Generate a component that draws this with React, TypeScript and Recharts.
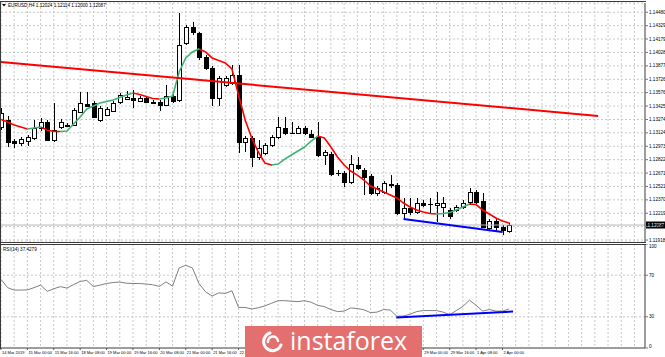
import React from 'react';
import {
  ComposedChart,
  LineChart,
  Bar,
  Line,
  XAxis,
  YAxis,
  CartesianGrid,
  ReferenceLine,
} from 'recharts';

// EURUSD H4, bars 0..77 (14 Mar 08:00 .. 2 Apr 04:00)
const opens = [
  1.13189, 1.13268, 1.13032, 1.13009, 1.13032, 1.13066, 1.13178, 1.13246, 1.13043, 1.13189,
  1.13212, 1.13212, 1.13358, 1.13448, 1.13459, 1.13268, 1.13324, 1.13369, 1.13471, 1.13504,
  1.13516, 1.13482, 1.13516, 1.13471, 1.13471, 1.13437, 1.13538, 1.13493, 1.14134, 1.14314,
  1.14247, 1.13977, 1.13853, 1.13516, 1.13662, 1.13684, 1.13774, 1.13021, 1.13066, 1.12852,
  1.12897, 1.12987, 1.13077, 1.13178, 1.13125, 1.13122, 1.13178, 1.13111, 1.13077, 1.12874,
  1.12886, 1.12675, 1.12672, 1.12571, 1.12762, 1.12706, 1.12638, 1.12447, 1.12458, 1.12548,
  1.12537, 1.12222, 1.12278, 1.12233, 1.12334, 1.12326, 1.12312, 1.12289, 1.12256, 1.12256,
  1.12289, 1.12346, 1.12458, 1.12357, 1.12053, 1.12132, 1.12064, 1.12024,
];
const highs = [
  1.13403, 1.13313, 1.13054, 1.13077, 1.13099, 1.13268, 1.13291, 1.13268, 1.13459, 1.13279,
  1.13234, 1.13403, 1.13583, 1.13583, 1.13482, 1.13426, 1.13414, 1.13482, 1.13572, 1.13594,
  1.13606, 1.13538, 1.13527, 1.13493, 1.13493, 1.13662, 1.13561, 1.14472, 1.14337, 1.14371,
  1.14258, 1.13999, 1.13876, 1.13763, 1.13763, 1.13887, 1.13887, 1.13088, 1.13088, 1.13043,
  1.13009, 1.13099, 1.13302, 1.13302, 1.13246, 1.13201, 1.13201, 1.13156, 1.13246, 1.12931,
  1.12908, 1.12706, 1.12695, 1.12874, 1.12852, 1.12728, 1.12661, 1.12526, 1.12582, 1.12649,
  1.12559, 1.12391, 1.12391, 1.12391, 1.12368, 1.12391, 1.12458, 1.12402, 1.12278, 1.12312,
  1.12368, 1.12503, 1.12481, 1.12447, 1.12154, 1.12154, 1.12087, 1.12114,
];
const lows = [
  1.13156, 1.12964, 1.12953, 1.12976, 1.12976, 1.13043, 1.13144, 1.13032, 1.13021, 1.13167,
  1.13189, 1.13201, 1.13347, 1.13414, 1.13291, 1.13246, 1.13313, 1.13358, 1.13448, 1.13493,
  1.13403, 1.13471, 1.13459, 1.13448, 1.13369, 1.13426, 1.13459, 1.13471, 1.14112, 1.14224,
  1.13943, 1.13831, 1.13426, 1.13426, 1.1364, 1.13662, 1.12897, 1.12908, 1.12739, 1.12818,
  1.12874, 1.12964, 1.13054, 1.13099, 1.13111, 1.13111, 1.13099, 1.13066, 1.12852, 1.12762,
  1.12638, 1.12638, 1.12514, 1.12548, 1.12706, 1.12424, 1.12424, 1.12413, 1.12436, 1.12503,
  1.12199, 1.12154, 1.12199, 1.12211, 1.12289, 1.12222, 1.12121, 1.12177, 1.12154, 1.12233,
  1.12267, 1.12323, 1.12323, 1.12053, 1.12031, 1.12008, 1.11974, 1.12,
];
const closes = [
  1.13347, 1.13021, 1.13009, 1.13054, 1.13077, 1.13178, 1.13246, 1.13043, 1.13156, 1.13246,
  1.13201, 1.13381, 1.13459, 1.13426, 1.13302, 1.13403, 1.13392, 1.13459, 1.13549, 1.13527,
  1.13493, 1.13516, 1.13471, 1.13459, 1.13437, 1.13538, 1.13482, 1.14112, 1.14314, 1.14258,
  1.13977, 1.13853, 1.13516, 1.13741, 1.13741, 1.13774, 1.13021, 1.13066, 1.12852, 1.12953,
  1.12987, 1.13077, 1.13189, 1.13122, 1.13119, 1.13178, 1.13122, 1.13077, 1.12874, 1.12908,
  1.12661, 1.12669, 1.12571, 1.12773, 1.12728, 1.12627, 1.12447, 1.12503, 1.12559, 1.12537,
  1.12222, 1.12278, 1.12233, 1.12334, 1.12312, 1.1232, 1.12334, 1.12334, 1.12188, 1.12289,
  1.12334, 1.12458, 1.12346, 1.12064, 1.12132, 1.12064, 1.12031, 1.12087,
];
// moving average
const maValues = [
  1.13274, 1.13246, 1.13212, 1.13189, 1.13167, 1.13178, 1.13189, 1.13156, 1.13139, 1.13139,
  1.13144, 1.13223, 1.13302, 1.13392, 1.13426, 1.13459, 1.13476, 1.13493, 1.13521, 1.13549,
  1.13572, 1.13555, 1.13532, 1.1351, 1.13504, 1.13516, 1.13538, 1.13808, 1.13966, 1.14033,
  1.14067, 1.14033, 1.13966, 1.13937, 1.13909, 1.13842, 1.13549, 1.13268, 1.13066, 1.12908,
  1.12784, 1.12762, 1.12773, 1.12829, 1.12874, 1.12919, 1.12964, 1.13032, 1.13088, 1.13066,
  1.12964, 1.12852, 1.12762, 1.12694, 1.12649, 1.12593, 1.12526, 1.12492, 1.12458, 1.12424,
  1.12391, 1.12334, 1.12289, 1.12256, 1.12233, 1.12216, 1.12211, 1.12216, 1.12227, 1.12256,
  1.12289, 1.12323, 1.12317, 1.12256, 1.12211, 1.12166, 1.12132, 1.12109,
];
const rsiValues = [
  66, 58, 55.7, 55.7, 55.9, 58, 60.5, 54.5, 57, 59,
  57.6, 61, 64, 65, 59, 60.5, 62, 63, 63.4, 62.3,
  62, 62, 61.5, 60.8, 59.2, 63.6, 59.5, 77, 79.5, 77,
  62, 54, 50, 53, 52.5, 55, 39, 39, 37.5, 38.7,
  40.5, 43, 45.5, 45.5, 45, 44.6, 45.5, 44, 41, 39.8,
  37, 35, 35.5, 38.5, 38, 36.7, 34, 34.5, 37, 36.5,
  30.5, 30.8, 32.5, 35, 36, 36, 36, 34.5, 32, 36,
  40, 46, 41, 35.5, 37, 35.5, 35.5, 37.4,
];

const priceTicks = [
  1.1448, 1.14329, 1.14179, 1.14028, 1.13877, 1.13726, 1.13576, 1.13425, 1.13274,
  1.13124, 1.12973, 1.12822, 1.12671, 1.12521, 1.1237, 1.12219, 1.12069, 1.11918,
];
const rsiTicks = [0, 30, 70, 100];
const rsiLevels = [30, 70];
const dateTicks = [0, 4, 8, 12, 16, 20, 24, 28, 32, 36, 40, 44, 48, 52, 56, 60, 64, 68, 72, 76];
const dateLabels = [
  '14 Mar 2019', '15 Mar 00:00', '15 Mar 16:00', '18 Mar 08:00', '19 Mar 00:00',
  '19 Mar 16:00', '20 Mar 08:00', '21 Mar 00:00', '21 Mar 16:00', '22 Mar 08:00',
  '25 Mar 00:00', '25 Mar 16:00', '26 Mar 08:00', '27 Mar 00:00', '27 Mar 16:00',
  '28 Mar 08:00', '29 Mar 00:00', '29 Mar 16:00', '1 Apr 08:00', '2 Apr 00:00',
];
const gridBars = [
  0, 2, 4, 6, 8, 10, 12, 14, 16, 18, 20, 22, 24, 26, 28, 30, 32, 34, 36, 38, 40, 42, 44, 46, 48,
  50, 52, 54, 56, 58, 60, 62, 64, 66, 68, 70, 72, 74, 76, 78, 80, 82, 84, 86, 88, 90, 92, 94, 96,
];

const trendLine = [{ x: 0, y: 1.1392 }, { x: 90.5, y: 1.13313 }];
const supportLine = [{ x: 61, y: 1.12154 }, { x: 76, y: 1.12008 }];
const rsiSupport = [{ x: 59.9, y: 29.3 }, { x: 77.6, y: 35 }];
const lastPrice = 1.12087;
const title = 'EURUSD,H4  1.12024 1.12114 1.12000 1.12087';
const rsiTitle = 'RSI(14) 37.4279';

const X_DOMAIN: [number, number] = [0, 97.6];
const FONT = '"Liberation Sans", Arial, sans-serif';
const GRID = '#c8c8c8';
const AXIS = '#3a3a3a';

const candles = opens.map((o, i) => ({
  i,
  open: o,
  high: highs[i],
  low: lows[i],
  close: closes[i],
  range: [lows[i], highs[i]],
  ma: maValues[i],
}));
const rsiData = rsiValues.map((v, i) => ({ i, rsi: v }));

// red/green colouring of the MA, one colour per segment
const maStops: { off: number; color: string }[] = [];
for (let k = 0; k < maValues.length - 1; k++) {
  const color = maValues[k + 1] > maValues[k] ? '#3cb371' : '#ff0000';
  const n = maValues.length - 1;
  maStops.push({ off: k / n, color }, { off: (k + 1) / n, color });
}

const Candle = (props: any) => {
  const { x, y, width, height, payload } = props;
  if (!payload || height == null) return null;
  const { open, close, high, low } = payload;
  const k = height / (high - low || 1);
  const py = (p: number) => y + (high - p) * k;
  const cx = Math.round(x + width / 2) + 0.5;
  const top = Math.round(py(Math.max(open, close)));
  const bot = Math.round(py(Math.min(open, close)));
  const bull = close >= open;
  return (
    <g>
      <line x1={cx} x2={cx} y1={y} y2={y + height} stroke="#000" strokeWidth={1} />
      {bot - top < 1 ? (
        <line x1={cx - 2.5} x2={cx + 2.5} y1={top + 0.5} y2={top + 0.5} stroke="#000" />
      ) : (
        <rect
          x={cx - 2}
          y={top + 0.5}
          width={4}
          height={bot - top}
          fill={bull ? '#fff' : '#000'}
          stroke="#000"
          strokeWidth={1}
        />
      )}
    </g>
  );
};

const PriceTick = (props: any) => {
  const { x, y, payload } = props;
  return (
    <text x={x} y={y} dy={1.6} fontSize={4.6} fontFamily={FONT} fill="#000" textAnchor="start">
      {payload.value.toFixed(5)}
    </text>
  );
};

const RsiTick = (props: any) => {
  const { x, y, payload } = props;
  const dy = payload.value === 100 ? 3.6 : payload.value === 0 ? 0 : 1.6;
  return (
    <text x={x} y={y} dy={dy} fontSize={4.6} fontFamily={FONT} fill="#000" textAnchor="start">
      {payload.value}
    </text>
  );
};

const DateTick = (props: any) => {
  const { x, y, payload } = props;
  const idx = dateTicks.indexOf(payload.value);
  return (
    <text x={x + 1} y={y + 4} fontSize={4} fontFamily={FONT} fill="#000" textAnchor="start">
      {dateLabels[idx]}
    </text>
  );
};

const PriceBox = (props: any) => {
  const vb = props.viewBox || {};
  const bx = (vb.x || 0) + (vb.width || 0) + 1;
  const by = vb.y || 0;
  return (
    <g>
      <rect x={bx} y={by - 3.5} width={19} height={7} fill="#000" />
      <text x={bx + 1.5} y={by + 1.6} fontSize={4.6} fontFamily={FONT} fill="#fff">
        {lastPrice.toFixed(5)}
      </text>
    </g>
  );
};

// vertical grid every two bars, placed through the x domain of the plot
const gridX = (args: any) => {
  const off = (args && args.offset) || {};
  const left = off.left ?? 1;
  const w = off.width ?? 644;
  return gridBars.map((b) => left + ((b - X_DOMAIN[0]) / (X_DOMAIN[1] - X_DOMAIN[0])) * w);
};

const App: React.FC = () => {
  return (
    <div
      style={{
        position: 'fixed',
        left: 0,
        top: 0,
        width: 665,
        height: 357,
        background: '#fff',
        overflow: 'hidden',
        fontFamily: FONT,
      }}
    >
      <div style={{ position: 'absolute', left: 0, top: 0 }}>
        <ComposedChart width={665} height={243} data={candles} margin={{ top: 3, right: 0, bottom: 1, left: 1 }}>
          <defs>
            <linearGradient id="maGrad" x1="0" y1="0" x2="1" y2="0">
              {maStops.map((s, k) => (
                <stop key={k} offset={s.off} stopColor={s.color} />
              ))}
            </linearGradient>
          </defs>
          <CartesianGrid stroke={GRID} strokeDasharray="2 2" verticalCoordinatesGenerator={gridX} />
          <XAxis dataKey="i" type="number" domain={X_DOMAIN} allowDataOverflow height={0} tick={false} axisLine={false} tickLine={false} />
          <YAxis
            orientation="right"
            width={20}
            type="number"
            domain={[1.11896, 1.14584]}
            allowDataOverflow
            ticks={priceTicks}
            interval={0}
            tick={<PriceTick />}
            tickSize={3}
            tickMargin={1}
            tickLine={{ stroke: '#777' }}
            axisLine={{ stroke: AXIS }}
          />
          <ReferenceLine y={lastPrice} stroke="#b8b8b8" strokeWidth={1} label={<PriceBox />} />
          <Bar dataKey="range" barSize={5} shape={<Candle />} isAnimationActive={false} />
          <Line
            dataKey="ma"
            type="linear"
            stroke="url(#maGrad)"
            strokeWidth={1.6}
            dot={false}
            activeDot={false}
            isAnimationActive={false}
          />
          <ReferenceLine segment={trendLine} stroke="#ff0000" strokeWidth={2} ifOverflow="visible" />
          <ReferenceLine segment={supportLine} stroke="#0000ff" strokeWidth={2} ifOverflow="visible" />
        </ComposedChart>
      </div>

      <div style={{ position: 'absolute', left: 0, top: 244 }}>
        <LineChart width={665} height={113} data={rsiData} margin={{ top: 0, right: 0, bottom: 0, left: 1 }}>
          <CartesianGrid stroke={GRID} strokeDasharray="2 2" horizontal={false} verticalCoordinatesGenerator={gridX} />
          <XAxis
            dataKey="i"
            type="number"
            domain={X_DOMAIN}
            allowDataOverflow
            ticks={dateTicks}
            interval={0}
            height={9}
            tick={<DateTick />}
            tickSize={2}
            tickMargin={0}
            tickLine={{ stroke: '#555' }}
            axisLine={{ stroke: AXIS }}
          />
          <YAxis
            orientation="right"
            width={20}
            type="number"
            domain={[0, 100]}
            ticks={rsiTicks}
            interval={0}
            tick={<RsiTick />}
            tickSize={3}
            tickMargin={1}
            tickLine={{ stroke: '#777' }}
            axisLine={{ stroke: AXIS }}
          />
          {rsiLevels.map((lv) => (
            <ReferenceLine key={lv} y={lv} stroke={GRID} strokeDasharray="2 2" />
          ))}
          <Line
            dataKey="rsi"
            type="linear"
            stroke="#808080"
            strokeWidth={1}
            dot={false}
            activeDot={false}
            isAnimationActive={false}
          />
          <ReferenceLine segment={rsiSupport} stroke="#0000ff" strokeWidth={2} ifOverflow="visible" />
        </LineChart>
      </div>

      <svg width={665} height={357} style={{ position: 'absolute', left: 0, top: 0, pointerEvents: 'none' }}>
        <line x1={0} x2={646} y1={1.5} y2={1.5} stroke={AXIS} />
        <line x1={0.5} x2={0.5} y1={1} y2={349} stroke={AXIS} />
        <line x1={0} x2={646} y1={242.5} y2={242.5} stroke={AXIS} />
        <line x1={0} x2={646} y1={244.5} y2={244.5} stroke={AXIS} />
        <polygon points="2,4 6,4 4,6.5" fill="#000" />
        <text x={8} y={6.6} fontSize={4.6} fontFamily={FONT} fill="#000">
          {title}
        </text>
        <text x={3} y={250.5} fontSize={4.6} fontFamily={FONT} fill="#000">
          {rsiTitle}
        </text>
        <rect x={245} y={326} width={177} height={31} fill="#e36f6f" />
        <path d="M 270 333 A 9 9 0 1 0 281 345" stroke="#fff" strokeWidth={3} fill="none" strokeLinecap="round" />
        <path d="M 268 342 A 5 5 0 1 1 278 341" stroke="#fff" strokeWidth={2.5} fill="none" strokeLinecap="round" />
        <text x={290} y={350} fontSize={25} fontFamily='"Open Sans", sans-serif' fill="#fff">
          instaforex
        </text>
      </svg>
    </div>
  );
};

export default App;
